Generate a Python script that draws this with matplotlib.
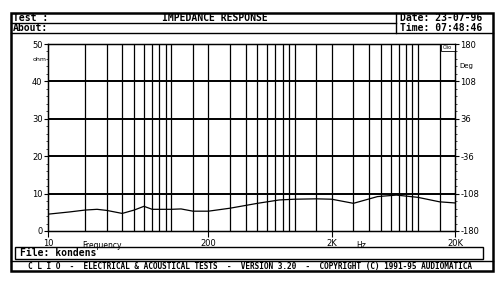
import numpy as np
import matplotlib.pyplot as plt
from matplotlib.patches import Rectangle
from matplotlib.lines import Line2D

plt.rcParams['axes.unicode_minus'] = False

# impedance curve (Hz, ohm)
freq = [10, 15, 20, 25, 30, 40, 50, 60, 70, 100, 120, 150, 200, 300, 500,
        750, 1000, 1500, 2000, 3000, 4700, 6700, 10000, 15000, 20000]
ohms = [4.5, 5.1, 5.6, 5.8, 5.5, 4.7, 5.6, 6.6, 5.8, 5.8, 5.9, 5.3, 5.3,
        6.1, 7.4, 8.3, 8.5, 8.6, 8.5, 7.4, 9.2, 9.6, 9.0, 7.8, 7.5]

grid_freqs = ([20, 30, 40, 50, 60, 70, 80, 90, 100, 150]
              + [200, 300, 400, 500, 600, 700, 800, 900, 1000, 1500]
              + [2000, 3000, 4000, 5000, 6000, 7000, 8000, 9000, 10000, 15000])
grid_ohms = [10, 20, 30, 40]

x_ticks = [10, 200, 2000, 20000]
x_labels = ['10', '200', '2K', '20K']
y_ticks = [0, 10, 20, 30, 40, 50]
deg_ticks = [-180, -108, -36, 36, 108, 180]

W, H = 500, 284
mono = dict(family='DejaVu Sans Mono', weight='bold')


def fx(px):
    return px / W


def fy(py):
    return 1 - py / H


fig = plt.figure(figsize=(5, 2.84), dpi=100)
fig.patch.set_facecolor('white')

ax = fig.add_axes([fx(48), fy(231), 407 / W, 187 / H])
ax.set_xscale('log')
ax.set_xlim(10, 20000)
ax.set_ylim(0, 50)

for f in grid_freqs:
    ax.axvline(f, color='black', lw=0.9)
for o in grid_ohms:
    ax.axhline(o, color='black', lw=1.4)

ax.plot(freq, ohms, color='black', lw=0.9)

ax.set_xticks(x_ticks)
ax.set_xticklabels(x_labels)
ax.xaxis.set_minor_locator(plt.NullLocator())
ax.set_yticks(y_ticks)
ax.set_yticks(np.arange(0, 51, 2), minor=True)
ax.tick_params(axis='x', length=4, width=0.8, pad=2, labelsize=6)
ax.tick_params(axis='y', which='major', length=3, width=0.8, pad=1, labelsize=6)
ax.tick_params(axis='y', which='minor', length=1.5, width=0.5)
for s in ax.spines.values():
    s.set_linewidth(1.0)

ax.text(27.4, -2.6, 'Frequency', fontsize=5.5, ha='center', va='top')
ax.text(3500, -2.6, 'Hz', fontsize=5.5, ha='center', va='top')
fig.text(fx(40), fy(60), 'ohm', fontsize=4.5, ha='center', va='center')

ax2 = ax.twinx()
ax2.set_ylim(-180, 180)
ax2.set_yticks(deg_ticks)
ax2.set_yticks(np.arange(-180, 181, 14.4), minor=True)
ax2.tick_params(axis='y', which='major', length=3, width=0.8, pad=1, labelsize=6)
ax2.tick_params(axis='y', which='minor', length=1.5, width=0.5)
fig.text(fx(459), fy(66), 'Deg', fontsize=5, ha='left', va='center')

# little logo box in the corner of the plot
ax.add_patch(Rectangle((0.965, 0.962), 0.035, 0.038, transform=ax.transAxes,
                       facecolor='white', edgecolor='black', lw=0.6, zorder=5))
ax.text(0.982, 0.981, 'Clio', transform=ax.transAxes, fontsize=3.5,
        ha='center', va='center', zorder=6)

# screen frame, header and footer
fig.add_artist(Rectangle((fx(11), fy(271)), (493 - 11) / W, (271 - 13) / H,
                         transform=fig.transFigure, fill=False,
                         edgecolor='black', lw=1.8))
fig.add_artist(Line2D([fx(11), fx(396)], [fy(23), fy(23)], color='black', lw=1.0))
fig.add_artist(Line2D([fx(11), fx(493)], [fy(33), fy(33)], color='black', lw=1.0))
fig.add_artist(Line2D([fx(396), fx(396)], [fy(13), fy(33)], color='black', lw=1.0))
fig.add_artist(Line2D([fx(11), fx(493)], [fy(261), fy(261)], color='black', lw=1.0))
fig.add_artist(Rectangle((fx(15), fy(259)), (483 - 15) / W, 12 / H,
                         transform=fig.transFigure, fill=False,
                         edgecolor='black', lw=1.0))

fig.text(fx(13), fy(18), 'Test :', fontsize=7, va='center', **mono)
fig.text(fx(13), fy(28), 'About:', fontsize=7, va='center', **mono)
fig.text(fx(215), fy(18), 'IMPEDANCE RESPONSE', fontsize=7, ha='center',
         va='center', **mono)
fig.text(fx(400), fy(18), 'Date: 23-07-96', fontsize=7, va='center', **mono)
fig.text(fx(400), fy(28), 'Time: 07:48:46', fontsize=7, va='center', **mono)
fig.text(fx(20), fy(253), 'File: kondens', fontsize=7, va='center', **mono)
fig.text(fx(250), fy(266),
         'C L I O  -  ELECTRICAL & ACOUSTICAL TESTS  -  VERSION 3.20  -  '
         'COPYRIGHT (C) 1991-95 AUDIOMATICA',
         fontsize=5.6, ha='center', va='center', **mono)

fig.savefig('out.png', dpi=100)
